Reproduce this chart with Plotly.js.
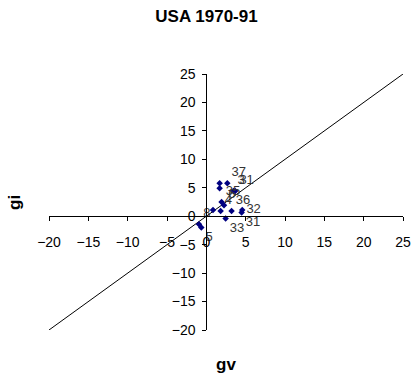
<!DOCTYPE html>
<html>
<head>
<meta charset="utf-8">
<script src="https://cdn.plot.ly/plotly-3.0.1.min.js"></script>
<style>html,body{margin:0;padding:0;background:#fff;}#chart{width:413px;height:376px;}</style>
</head>
<body>
<div id="chart"></div>
<script>
// data
var gv = [1.69, 1.69, 2.67, 3.43, 3.68, 1.94, 2.25, 0.85, 1.82, 3.21, 4.57, 4.49, 2.45, -0.93, -0.64];
var gi = [5.8, 4.9, 5.8, 4.45, 4.45, 2.5, 1.93, 1.1, 0.93, 0.93, 1.1, 0.65, -0.4, -1.4, -2.0];
var pointLabels = ["", "", "37", "3", "31", "35", "6", "", "4", "36", "32", "31", "33", "8", "5"];
var labelPos = ["top right", "top right", "top right", "top right", "top right", "top right", "top right",
                "top right", "top right", "top right", "middle right", "bottom right", "bottom right",
                "top right", "bottom right"];
var diagX = [-20, 25];
var diagY = [-20, 25];
var tickVals = [-20, -15, -10, -5, 0, 5, 10, 15, 20, 25];

var font = "Liberation Sans, Arial, sans-serif";
var cross = (0 - (-20)) / (25 - (-20));

var traces = [
  {x: diagX, y: diagY, mode: "lines", line: {color: "#000", width: 1}, hoverinfo: "skip", showlegend: false},
  {x: gv, y: gi, mode: "markers+text", text: pointLabels, textposition: labelPos,
   textfont: {family: font, size: 13, color: "#333333"},
   marker: {symbol: "diamond", size: 5, color: "#000080"}, showlegend: false, cliponaxis: false}
];

var axisCommon = {
  range: [-20, 25], tickvals: tickVals, ticks: "outside", ticklen: 4, tickwidth: 1, tickcolor: "#000",
  showline: true, linecolor: "#000", linewidth: 1, showgrid: false, zeroline: false,
  tickfont: {family: font, size: 14, color: "#000"}, anchor: "free", position: cross, fixedrange: true
};

var layout = {
  width: 413, height: 376,
  margin: {l: 49, r: 10, t: 74, b: 46},
  paper_bgcolor: "#fff", plot_bgcolor: "#fff",
  title: {text: "<b>USA 1970-91</b>", x: 0.5, xref: "container", xanchor: "center",
          y: 1 - 16 / 376, yref: "container", yanchor: "middle",
          font: {family: font, size: 17, color: "#000"}},
  xaxis: Object.assign({}, axisCommon, {ticklabelstandoff: 9}),
  yaxis: Object.assign({}, axisCommon, {ticklabelstandoff: 4}),
  annotations: [
    {text: "<b>gi</b>", xref: "paper", yref: "paper", x: -0.099, y: 0.5, xanchor: "center", yanchor: "middle",
     showarrow: false, textangle: -90, font: {family: font, size: 17, color: "#000"}},
    {text: "<b>gv</b>", xref: "paper", yref: "paper", x: 0.5, y: -0.133, xanchor: "center", yanchor: "middle",
     showarrow: false, font: {family: font, size: 17, color: "#000"}}
  ]
};

Plotly.newPlot("chart", traces, layout, {displayModeBar: false, staticPlot: true});
</script>
</body>
</html>
